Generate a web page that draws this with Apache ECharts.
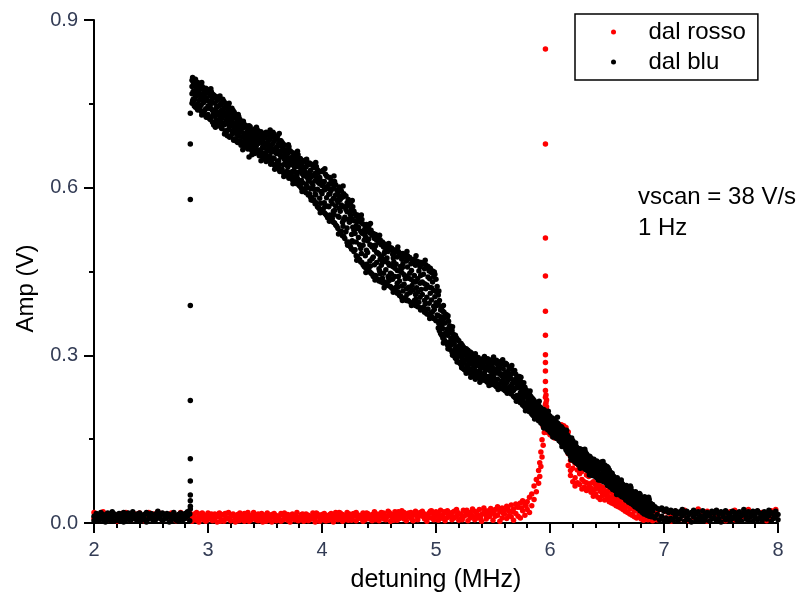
<!DOCTYPE html>
<html>
<head>
<meta charset="utf-8">
<script src="https://cdn.jsdelivr.net/npm/echarts@6/dist/echarts.min.js"></script>
<style>
html,body{margin:0;padding:0;background:#fff;}
#chart{width:804px;height:601px;}
</style>
</head>
<body>
<div id="chart"></div>
<script>
// ---- tick labels ----
const xTicks = [2, 3, 4, 5, 6, 7, 8];
const yTicks = ['0.0', '0.3', '0.6', '0.9'];
const seriesNames = ['dal rosso', 'dal blu'];
const noteLines = ['vscan = 38 V/s', '1 Hz'];

// ---- "dal blu" (black) readings: [x, y, y, ...] ----
const bluStart = [
[2.00,.012,.004],[2.02,.017,.007],[2.04,.003,.014],[2.06,.019,.009],[2.08,.006,.015],[2.10,.011,.002],
[2.12,.018,.008],[2.14,.005,.013],[2.16,.020,.010],[2.18,.003,.016],[2.20,.012,.007],[2.22,.017,.004],
[2.24,.009,.014],[2.26,.002,.019],[2.28,.013,.006],[2.30,.018,.010],[2.32,.004,.015],[2.34,.011,.020],
[2.36,.007,.013],[2.38,.016,.003],[2.40,.010,.018],[2.42,.005,.012],[2.44,.015,.008],[2.46,.019,.002],
[2.48,.007,.014],[2.50,.012,.017],[2.52,.003,.009],[2.54,.016,.006],[2.56,.021,.011],[2.58,.008,.014],
[2.60,.004,.018],[2.62,.013,.007],[2.64,.017,.010],[2.66,.002,.015],[2.68,.011,.006],[2.70,.019,.013],
[2.72,.005,.009],[2.74,.015,.003],[2.76,.010,.018],[2.78,.006,.014],[2.80,.017,.008],[2.82,.012,.020],
[2.84,.004,.016]
];
const bluSpike = [
[2.845,.733,.678,.579,.389,.219,.115,.075,.050,.040,.030,.025]
];
const bluBand = [
[2.86,.792,.768,.751,.781],[2.88,.785,.757,.773,.746],[2.90,.778,.749,.764,.787],[2.92,.771,.742,.783,.756],
[2.94,.779,.748,.762,.737],[2.96,.752,.775,.733,.766],[2.98,.769,.741,.778,.729],[3.00,.755,.731,.772,.746],
[3.02,.764,.722,.748,.775],[3.04,.738,.759,.717,.767],[3.06,.751,.728,.762,.714],[3.08,.735,.756,.712,.744],
[3.10,.747,.718,.761,.729],[3.12,.724,.752,.706,.739],[3.14,.743,.712,.735,.754],[3.16,.721,.747,.699,.731],
[3.18,.738,.704,.726,.745],[3.20,.711,.733,.693,.722],[3.22,.729,.697,.716,.738],[3.24,.705,.724,.687,.731],
[3.26,.719,.694,.712,.681],[3.28,.701,.722,.684,.709],[3.30,.714,.691,.679,.706],[3.32,.697,.713,.674,.689],
[3.34,.708,.684,.699,.672],[3.36,.690,.711,.677,.655],[3.38,.703,.681,.694,.668],[3.40,.686,.701,.669,.692],
[3.42,.697,.672,.688,.663],[3.44,.679,.702,.666,.691],[3.46,.694,.668,.684,.659],[3.48,.673,.697,.655,.687],
[3.50,.689,.662,.679,.651],[3.52,.668,.694,.649,.681],[3.54,.698,.657,.675,.686],[3.56,.664,.691,.645,.677],
[3.58,.683,.652,.696,.641],[3.60,.661,.687,.637,.672],[3.62,.679,.648,.665,.633],[3.64,.655,.674,.631,.684],
[3.66,.669,.641,.678,.627],[3.68,.646,.665,.624,.654],[3.70,.661,.637,.649,.621],[3.72,.642,.666,.618,.653],
[3.74,.655,.629,.647,.614],[3.76,.636,.657,.611,.644],[3.78,.649,.622,.638,.607],[3.80,.628,.651,.604,.639],
[3.82,.643,.613,.631,.599],[3.84,.621,.646,.597,.632],[3.86,.637,.606,.624,.591],[3.88,.612,.641,.587,.626],
[3.90,.631,.598,.618,.583],[3.92,.604,.639,.577,.621],[3.94,.626,.589,.612,.571],[3.96,.597,.632,.566,.614],
[3.98,.618,.581,.607,.562],[4.00,.589,.629,.558,.604],[4.02,.611,.573,.596,.555],[4.04,.582,.621,.550,.601],
[4.06,.606,.566,.588,.547],[4.08,.576,.613,.542,.595],[4.10,.599,.558,.581,.538],[4.12,.567,.605,.533,.587],
[4.14,.591,.549,.574,.527],[4.16,.558,.597,.521,.579],[4.18,.583,.538,.566,.514],[4.20,.547,.586,.509,.566],
[4.22,.573,.528,.557,.502],[4.24,.538,.575,.497,.556],[4.26,.562,.516,.545,.490],[4.28,.524,.558,.486,.541],
[4.30,.549,.503,.532,.478],[4.32,.511,.546,.473,.529],[4.34,.538,.491,.522,.467],[4.36,.497,.535,.462,.518],
[4.38,.529,.478,.513,.457],[4.40,.484,.526,.453,.505],[4.42,.519,.469,.498,.449],[4.44,.473,.515,.445,.494],
[4.46,.509,.462,.489,.441],[4.48,.466,.506,.437,.484],[4.50,.502,.455,.481,.433],[4.52,.461,.498,.431,.477],
[4.54,.494,.447,.472,.429],[4.56,.453,.491,.427,.468],[4.58,.486,.441,.465,.425],[4.60,.447,.489,.423,.462],
[4.62,.481,.436,.459,.419],[4.64,.441,.484,.415,.456],[4.66,.476,.429,.452,.411],[4.68,.433,.479,.407,.451],
[4.70,.472,.424,.448,.403],[4.72,.427,.476,.401,.444],[4.74,.469,.419,.441,.398],[4.76,.422,.473,.397,.438],
[4.78,.464,.414,.436,.394],[4.80,.417,.468,.392,.433],[4.82,.461,.409,.431,.389],[4.84,.413,.466,.387,.437],
[4.86,.458,.404,.429,.385],[4.88,.409,.463,.382,.431],[4.90,.455,.398,.428,.377],[4.92,.404,.459,.374,.426],
[4.94,.451,.393,.422,.372],[4.96,.399,.448,.370,.421],[4.98,.441,.388,.416,.366],[5.00,.394,.436,.362,.414],
[5.02,.408,.371,.349,.392],[5.04,.381,.352,.339,.369],[5.06,.357,.379,.331,.348],[5.08,.372,.339,.358,.325],
[5.10,.347,.368,.319,.336],[5.12,.353,.324,.341,.311],[5.14,.331,.345,.306,.322],[5.16,.334,.309,.321,.299],
[5.18,.315,.331,.294,.306],[5.20,.326,.301,.316,.288],[5.22,.307,.321,.283,.298],[5.24,.315,.286,.302,.276],
[5.26,.292,.311,.273,.301],[5.28,.309,.279,.294,.271],[5.30,.285,.306,.268,.297],[5.32,.301,.274,.289,.266],
[5.34,.279,.298,.264,.288],[5.36,.295,.268,.283,.262],[5.38,.272,.293,.260,.281],[5.40,.289,.263,.278,.258],
[5.42,.267,.291,.256,.279],[5.44,.288,.259,.276,.254],[5.46,.262,.293,.252,.274],[5.48,.284,.256,.271,.250],
[5.50,.259,.292,.249,.272],[5.52,.286,.253,.268,.246],[5.54,.257,.289,.244,.269],[5.56,.281,.249,.266,.242],
[5.58,.254,.288,.240,.263],[5.60,.283,.246,.264,.238],[5.62,.251,.284,.236,.261],[5.64,.278,.243,.259,.234],
[5.66,.246,.276,.231,.258],[5.68,.271,.237,.253,.227],[5.70,.241,.266,.223,.252],[5.72,.259,.226,.245,.219],
[5.74,.233,.254,.215,.241],[5.76,.248,.219,.236,.211],[5.78,.225,.243,.207,.232],[5.80,.236,.211,.226,.203],
[5.82,.214,.231,.199,.221],[5.84,.224,.203,.215,.195],[5.86,.205,.219,.191,.211],[5.88,.214,.194,.207,.187],
[5.90,.197,.211,.183,.203],[5.92,.206,.186,.198,.179],[5.94,.188,.203,.175,.194],[5.96,.199,.178,.190,.171],
[5.98,.181,.195,.167,.187],[6.00,.191,.171,.183,.163],[6.02,.174,.188,.159,.179],[6.04,.183,.163,.175,.155],
[6.06,.166,.180,.151,.171],[6.08,.175,.156,.167,.147],[6.10,.159,.172,.143,.164],[6.12,.166,.147,.158,.137],
[6.14,.149,.161,.131,.153],[6.16,.155,.135,.147,.125],[6.18,.139,.151,.119,.143],[6.20,.147,.126,.139,.113],
[6.22,.129,.140,.109,.133],[6.24,.134,.115,.127,.106],[6.26,.119,.133,.104,.126],[6.28,.131,.108,.124,.102],
[6.30,.113,.129,.098,.121],[6.32,.124,.101,.116,.095],[6.34,.105,.120,.092,.112],[6.36,.116,.095,.108,.089],
[6.38,.099,.111,.086,.104],[6.40,.109,.088,.101,.083],[6.42,.092,.108,.081,.099],[6.44,.107,.084,.097,.079],
[6.46,.088,.106,.077,.095],[6.48,.104,.081,.093,.075],[6.50,.083,.101,.073,.091],[6.52,.095,.076,.087,.069],
[6.54,.079,.088,.065,.082],[6.56,.083,.066,.076,.061],[6.58,.069,.079,.057,.073],[6.60,.077,.058,.070,.053],
[6.62,.061,.073,.051,.066],[6.64,.069,.054,.063,.049],[6.66,.056,.066,.046,.061],[6.68,.063,.047,.058,.042],
[6.70,.051,.062,.038,.056],[6.72,.057,.041,.052,.036],[6.74,.044,.054,.034,.049],[6.76,.051,.036,.046,.031],
[6.78,.039,.049,.027,.044],[6.80,.046,.031,.041,.023],[6.82,.033,.045,.021,.038],[6.84,.042,.026,.036,.019],
[6.86,.029,.040,.016,.034],[6.88,.036,.021,.031,.014],[6.90,.026,.033,.012,.021]
];
const bluBandB = [
[2.87,.789,.758,.772],[2.89,.763,.794,.744],[2.91,.776,.739,.788],[2.93,.745,.768,.784],[2.95,.781,.759,.734],
[2.97,.738,.771,.757],[2.99,.761,.727,.776],[3.01,.742,.769,.724],[3.03,.727,.754,.771],[3.05,.766,.733,.712],
[3.07,.742,.763,.721],[3.09,.716,.758,.731],[3.11,.735,.709,.749],[3.13,.758,.716,.731],[3.15,.702,.729,.751],
[3.17,.745,.714,.693],[3.19,.709,.736,.690],[3.21,.742,.701,.718],[3.23,.687,.713,.735],[3.25,.728,.699,.683],
[3.27,.692,.727,.708],[3.29,.716,.676,.699],[3.31,.682,.707,.719],[3.33,.711,.678,.693],[3.35,.669,.703,.685],
[3.37,.696,.709,.671],[3.39,.677,.663,.699],[3.41,.705,.683,.661],[3.43,.667,.691,.703],[3.45,.686,.657,.699],
[3.47,.661,.681,.696],[3.49,.693,.652,.671],[3.51,.676,.699,.647],[3.53,.655,.684,.666],[3.55,.692,.642,.671],
[3.57,.653,.679,.699],[3.59,.688,.639,.664],[3.61,.647,.674,.692],[3.63,.684,.659,.629],[3.65,.633,.666,.681],
[3.67,.676,.651,.625],[3.69,.629,.668,.641],[3.71,.651,.673,.617],[3.73,.664,.623,.641],[3.75,.619,.647,.662],
[3.77,.653,.627,.609],[3.79,.611,.645,.659],[3.81,.636,.602,.652],[3.83,.609,.646,.624],[3.85,.629,.593,.649],
[3.87,.643,.602,.618],[3.89,.589,.627,.644],[3.91,.609,.642,.582],[3.93,.636,.578,.597],[3.95,.573,.619,.638],
[3.97,.609,.564,.627],[3.99,.629,.572,.593],[4.01,.562,.607,.631],[4.03,.597,.553,.624],[4.05,.619,.567,.546],
[4.07,.551,.589,.618],[4.09,.607,.545,.571],[4.11,.559,.611,.537],[4.13,.596,.531,.578],[4.15,.547,.601,.563],
[4.17,.522,.569,.594],[4.19,.589,.542,.513],[4.21,.521,.561,.585],[4.23,.579,.503,.543],[4.25,.551,.494,.572],
[4.27,.503,.566,.529],[4.29,.553,.489,.518],[4.31,.527,.477,.551],[4.33,.544,.498,.471],[4.35,.466,.519,.543],
[4.37,.524,.459,.506],[4.39,.488,.534,.463],[4.41,.456,.508,.531],[4.43,.497,.447,.524],[4.45,.518,.476,.441],
[4.47,.443,.496,.516],[4.49,.483,.511,.436],[4.51,.446,.472,.507],[4.53,.503,.438,.466],[4.55,.431,.485,.499],
[4.57,.474,.497,.426],[4.59,.434,.461,.494],[4.61,.492,.445,.421],[4.63,.418,.467,.489],[4.65,.463,.487,.422],
[4.67,.413,.441,.486],[4.69,.482,.459,.406],[4.71,.415,.464,.482],[4.73,.437,.479,.403],[4.75,.458,.399,.478],
[4.77,.412,.447,.475],[4.79,.471,.393,.425],[4.81,.443,.472,.398],[4.83,.391,.421,.469],[4.85,.451,.395,.467],
[4.87,.466,.418,.384],[4.89,.386,.445,.465],[4.91,.419,.462,.379],[4.93,.440,.383,.459],[4.95,.456,.411,.375],
[4.97,.378,.431,.451],[4.99,.405,.445,.365],[5.01,.372,.423,.389],[5.03,.361,.398,.344],[5.05,.336,.386,.361],
[5.07,.366,.329,.377],[5.09,.341,.373,.323],[5.11,.361,.317,.344],[5.13,.318,.349,.331],[5.15,.338,.303,.325],
[5.17,.313,.336,.295],[5.19,.299,.328,.311],[5.21,.319,.286,.304],[5.23,.294,.318,.279],[5.25,.306,.274,.312],
[5.27,.283,.309,.298],[5.29,.301,.269,.287],[5.31,.276,.304,.292],[5.33,.293,.264,.283],[5.35,.271,.297,.285],
[5.37,.287,.261,.296],[5.39,.268,.291,.277],[5.41,.282,.256,.294],[5.43,.263,.289,.272],[5.45,.281,.252,.294],
[5.47,.256,.276,.291],[5.49,.279,.248,.264],[5.51,.253,.289,.276],[5.53,.272,.244,.291],[5.55,.248,.274,.287],
[5.57,.267,.241,.289],[5.59,.242,.276,.258],[5.61,.269,.236,.286],[5.63,.240,.271,.255],[5.65,.264,.233,.279],
[5.67,.237,.268,.249],[5.69,.256,.225,.273],[5.71,.228,.261,.245],[5.73,.251,.218,.262],[5.75,.222,.247,.236],
[5.77,.239,.210,.251],[5.79,.215,.238,.229],[5.81,.229,.201,.219],[5.83,.206,.227,.213],[5.85,.217,.193,.222],
[5.87,.195,.216,.202],[5.89,.209,.188,.198],[5.91,.185,.207,.194],[5.93,.201,.178,.191],[5.95,.183,.202,.174],
[5.97,.192,.171,.184],[5.99,.169,.193,.178],[6.01,.186,.161,.173],[6.03,.166,.186,.159],[6.05,.177,.153,.169],
[6.07,.157,.178,.163],[6.09,.169,.146,.157],[6.11,.151,.169,.141],[6.13,.159,.136,.166],[6.15,.142,.158,.128],
[6.17,.149,.124,.137],[6.19,.131,.152,.117],[6.21,.139,.111,.124],[6.23,.117,.137,.108],[6.25,.131,.104,.122],
[6.27,.111,.132,.103],[6.29,.126,.101,.117],[6.31,.108,.127,.096],[6.33,.118,.094,.109],[6.35,.098,.119,.088],
[6.37,.108,.085,.101],[6.39,.091,.110,.084],[6.41,.102,.081,.111],[6.43,.087,.104,.078],[6.45,.099,.076,.109],
[6.47,.082,.103,.074],[6.49,.096,.072,.088],[6.51,.076,.099,.071],[6.53,.091,.064,.083],[6.55,.071,.084,.060],
[6.57,.079,.058,.067],[6.59,.062,.081,.055],[6.61,.072,.050,.064],[6.63,.056,.071,.047],[6.65,.065,.045,.058],
[6.67,.049,.067,.041],[6.69,.059,.037,.052],[6.71,.043,.063,.035],[6.73,.054,.032,.046],[6.75,.039,.056,.029],
[6.77,.047,.026,.041],[6.79,.034,.051,.022],[6.81,.043,.019,.035],[6.83,.027,.047,.017],[6.85,.039,.014,.031],
[6.87,.022,.042,.012],[6.89,.033,.011,.026]
];
const bluBandC = [
[2.865,.797,.755],[2.905,.741,.769],[2.945,.788,.730],[2.985,.726,.758],[3.025,.777,.741],[3.065,.708,.736],
[3.105,.764,.724],[3.145,.696,.742],[3.185,.751,.717],[3.225,.685,.709],[3.265,.731,.700],[3.305,.668,.717],
[3.345,.710,.680],[3.385,.659,.688],[3.425,.708,.676],[3.465,.648,.700],[3.505,.660,.694],[3.545,.703,.648],
[3.585,.633,.669],[3.625,.697,.641],[3.665,.620,.658],[3.705,.677,.628],[3.745,.607,.645],[3.785,.665,.616],
[3.825,.593,.637],[3.865,.651,.600],[3.905,.578,.623],[3.945,.645,.587],[3.985,.555,.613],[4.025,.634,.566],
[4.065,.540,.598],[4.105,.621,.552],[4.145,.517,.586],[4.185,.603,.531],[4.225,.497,.567],[4.265,.577,.505],
[4.305,.470,.539],[4.345,.551,.482],[4.385,.448,.521],[4.425,.536,.460],[4.465,.435,.497],[4.505,.515,.451],
[4.545,.421,.482],[4.585,.500,.438],[4.625,.413,.474],[4.665,.494,.422],[4.705,.398,.457],[4.745,.486,.409],
[4.785,.389,.452],[4.825,.478,.401],[4.865,.381,.443],[4.905,.470,.392],[4.945,.366,.437],[4.985,.449,.382],
[5.025,.357,.415],[5.065,.322,.389],[5.105,.371,.312],[5.145,.300,.351],[5.185,.328,.288],[5.225,.278,.316],
[5.265,.312,.268],[5.305,.261,.293],[5.345,.303,.257],[5.385,.252,.281],[5.425,.298,.266],[5.465,.246,.283],
[5.505,.297,.261],[5.545,.239,.279],[5.585,.292,.252],[5.625,.232,.268],[5.665,.282,.242],[5.705,.218,.257],
[5.745,.261,.229],[5.785,.201,.228],[5.825,.236,.209],[5.865,.186,.213],[5.905,.218,.194],[5.945,.170,.197],
[5.985,.200,.176],[6.025,.154,.184],[6.065,.189,.162],[6.105,.137,.166],[6.145,.166,.141],[6.185,.113,.145],
[6.225,.143,.118],[6.265,.098,.127],[6.305,.132,.107],[6.345,.086,.114],[6.385,.114,.095],[6.425,.077,.100],
[6.465,.110,.085],[6.505,.067,.092],[6.545,.089,.068],[6.585,.051,.075],[6.625,.077,.057],[6.665,.041,.062],
[6.705,.066,.043],[6.745,.029,.052],[6.785,.053,.035],[6.825,.016,.040],[6.865,.046,.024]
];
const bluEnd = [
[6.92,.029,.009],[6.94,.015,.026],[6.96,.024,.006],[6.98,.012,.027],[7.00,.021,.004],[7.02,.009,.025],
[7.04,.019,.003],[7.06,.023,.008],[7.08,.005,.018],[7.10,.022,.011],[7.12,.004,.016],[7.14,.020,.007],
[7.16,.013,.024],[7.18,.003,.017],[7.20,.021,.009],[7.22,.006,.015],[7.24,.019,.002],[7.26,.011,.023],
[7.28,.004,.016],[7.30,.020,.008],[7.32,.013,.003],[7.34,.022,.010],[7.36,.005,.017],[7.38,.019,.012],
[7.40,.003,.014],[7.42,.021,.007],[7.44,.010,.018],[7.46,.004,.023],[7.48,.016,.008],[7.50,.020,.002],
[7.52,.011,.017],[7.54,.006,.022],[7.56,.018,.010],[7.58,.003,.014],[7.60,.021,.008],[7.62,.012,.019],
[7.64,.005,.016],[7.66,.020,.009],[7.68,.013,.003],[7.70,.018,.024],[7.72,.007,.014],[7.74,.020,.004],
[7.76,.011,.017],[7.78,.003,.021],[7.80,.015,.009],[7.82,.022,.006],[7.84,.010,.018],[7.86,.004,.014],
[7.88,.020,.011],[7.90,.007,.017],[7.92,.013,.023],[7.94,.003,.019],[7.96,.016,.008],[7.98,.021,.012],
[8.00,.006,.015]
];

// ---- "dal rosso" (red) readings: [x, y, y, ...] ----
const rossoBase = [
[2.00,.019,.008],[2.04,.015,.004],[2.08,.020,.011],[2.12,.006,.016],[2.16,.013,.018],[2.20,.003,.014],
[2.24,.017,.009],[2.28,.011,.019],[2.32,.005,.015],[2.36,.016,.010],[2.40,.008,.018],[2.44,.014,.004],
[2.48,.019,.011],[2.52,.007,.016],[2.56,.012,.020],[2.60,.017,.005],[2.64,.010,.015],[2.68,.018,.007],
[2.72,.004,.013],[2.76,.016,.019],[2.80,.009,.014],[2.84,.018,.006],
[2.86,.011,.003],[2.88,.016,.008],[2.90,.005,.019],[2.92,.013,.002],[2.94,.009,.017],[2.96,.015,.006],
[2.98,.003,.012],[3.00,.018,.010],[3.02,.007,.014],[3.04,.012,.004],[3.06,.016,.009],[3.08,.002,.013],
[3.10,.011,.018],[3.12,.006,.015],[3.14,.014,.003],[3.16,.009,.017],[3.18,.019,.007],[3.20,.004,.012],
[3.22,.013,.016],[3.24,.008,.002],[3.26,.015,.010],[3.28,.005,.018],[3.30,.012,.007],[3.32,.017,.003],
[3.34,.009,.014],[3.36,.003,.011],[3.38,.014,.006],[3.40,.010,.019],[3.42,.006,.013],[3.44,.016,.004],
[3.46,.011,.008],[3.48,.002,.015],[3.50,.013,.009],[3.52,.018,.005],[3.54,.007,.012],[3.56,.015,.002],
[3.58,.010,.017],[3.60,.004,.013],[3.62,.012,.008],[3.64,.017,.003],[3.66,.006,.014],[3.68,.011,.010],
[3.70,.015,.005],[3.72,.002,.012],[3.74,.009,.016],[3.76,.013,.006],[3.78,.019,.011],[3.80,.005,.008],
[3.82,.012,.015],[3.84,.008,.003],[3.86,.016,.011],[3.88,.004,.014],[3.90,.011,.007],[3.92,.018,.013],
[3.94,.007,.002],[3.96,.013,.016],[3.98,.003,.010],[4.00,.015,.006],[4.02,.009,.017],[4.04,.012,.004],
[4.06,.005,.014],[4.08,.017,.009],[4.10,.011,.002],[4.12,.014,.019],[4.14,.006,.011],[4.16,.018,.008],
[4.18,.003,.015],[4.20,.013,.006],[4.22,.009,.019],[4.24,.016,.012],[4.26,.005,.010],[4.28,.012,.017],
[4.30,.019,.004],[4.32,.008,.014],[4.34,.014,.009],[4.36,.003,.018],[4.38,.011,.006],[4.40,.017,.013],
[4.42,.007,.010],[4.44,.015,.004],[4.46,.020,.012],[4.48,.009,.016],[4.50,.004,.011],[4.52,.014,.019],
[4.54,.018,.007],[4.56,.006,.013],[4.58,.012,.021],[4.60,.016,.003],[4.62,.009,.015],[4.64,.020,.011],
[4.66,.005,.017],[4.68,.013,.008],[4.70,.022,.014],[4.72,.007,.019],[4.74,.015,.004],[4.76,.011,.018],
[4.78,.019,.009],[4.80,.004,.014],[4.82,.017,.021],[4.84,.010,.006],[4.86,.014,.019],[4.88,.021,.012],
[4.90,.007,.016],[4.92,.013,.003],[4.94,.018,.010],[4.96,.009,.022],[4.98,.015,.006],[5.00,.020,.012],
[5.02,.005,.017],[5.04,.023,.011],[5.06,.014,.008],[5.08,.019,.004],[5.10,.010,.022],[5.12,.016,.013],
[5.14,.006,.019],[5.16,.021,.009],[5.18,.012,.024],[5.20,.017,.005],[5.22,.008,.015],[5.24,.023,.011],
[5.26,.014,.020],[5.28,.004,.017],[5.30,.019,.009],[5.32,.012,.025],[5.34,.021,.006],[5.36,.009,.016],
[5.38,.024,.013],[5.40,.015,.003],[5.42,.019,.027],[5.44,.007,.014],[5.46,.022,.011],[5.48,.017,.026],
[5.50,.005,.019],[5.52,.024,.012],[5.54,.014,.029],[5.56,.003,.020],[5.58,.027,.009],[5.60,.016,.023],
[5.62,.008,.030],[5.64,.021,.013],[5.66,.011,.032],[5.68,.025,.005],[5.70,.017,.034],[5.72,.028,.012],
[5.74,.009,.036],[5.76,.022,.040],[5.78,.014,.033],[5.80,.038,.024],[5.82,.046,.019],[5.84,.031,.052],
[5.86,.042,.066],[5.88,.056,.078],[5.90,.071,.094],[5.91,.083,.108],[5.92,.101,.127],[5.93,.118,.149],
[5.94,.139,.172],[5.95,.162,.198]
];
const rossoBaseB = [
[2.87,.014],[2.91,.008],[2.95,.018],[2.99,.005],[3.03,.016],[3.07,.011],[3.11,.003],[3.15,.017],
[3.19,.009],[3.23,.013],[3.27,.004],[3.31,.015],[3.35,.019],[3.39,.008],[3.43,.012],[3.47,.017],
[3.51,.003],[3.55,.010],[3.59,.014],[3.63,.006],[3.67,.018],[3.71,.009],[3.75,.013],[3.79,.004],
[3.83,.016],[3.87,.011],[3.91,.007],[3.95,.018],[3.99,.012],[4.03,.004],[4.07,.015],[4.11,.009],
[4.15,.019],[4.19,.010],[4.23,.005],[4.27,.016],[4.31,.012],[4.35,.007],[4.39,.018],[4.43,.013],
[4.47,.006],[4.51,.016],[4.55,.010],[4.59,.019],[4.63,.005],[4.67,.020],[4.71,.011],[4.75,.016],
[4.79,.006],[4.83,.013],[4.87,.018],[4.91,.009],[4.95,.021],[4.99,.014],[5.03,.008],[5.07,.020],
[5.11,.016],[5.15,.011],[5.19,.019],[5.23,.006],[5.27,.023],[5.31,.014],[5.35,.019],[5.39,.008],
[5.43,.022],[5.47,.012],[5.51,.017],[5.55,.025],[5.59,.018],[5.63,.026],[5.67,.020],[5.71,.029],
[5.75,.027],[5.79,.031]
];
const rossoPeak = [
[5.96,.848,.678,.510,.442,.379,.336,.301,.287,.272,.253,.237,.225,.212,.200,.190,.180],
[5.965,.229,.215,.205,.193,.184],
[5.97,.220,.208,.196,.187,.174,.166]
];
const rossoTail = [
[5.98,.176,.162,.171],[6.00,.168,.158,.177],[6.02,.173,.155,.164],[6.04,.161,.178,.152],
[6.06,.169,.157,.175],[6.08,.154,.172,.163],[6.10,.176,.160,.149],[6.12,.167,.152,.174],
[6.14,.158,.171,.146],[6.16,.124,.163,.103],[6.18,.112,.094,.085],[6.20,.098,.119,.074],
[6.22,.081,.107,.066],[6.24,.095,.072,.113],[6.26,.069,.088,.101],[6.28,.092,.061,.078],
[6.30,.074,.097,.064],[6.32,.086,.058,.072],[6.34,.065,.083,.093],[6.36,.071,.055,.062],
[6.38,.059,.074,.048],[6.40,.068,.052,.061],[6.42,.046,.063,.071],[6.44,.057,.042,.066],
[6.46,.064,.049,.055],[6.48,.041,.058,.051],[6.50,.053,.067,.044],[6.52,.047,.038,.059],
[6.54,.055,.043,.036],[6.56,.034,.049,.041],[6.58,.045,.031,.052],[6.60,.038,.047,.029],
[6.62,.042,.027,.035],[6.64,.033,.046,.024],[6.66,.028,.039,.021],[6.68,.036,.019,.043],
[6.70,.025,.031,.016],[6.72,.038,.014,.029],[6.74,.021,.033,.011],[6.76,.027,.009,.034],
[6.78,.016,.031,.024],[6.80,.013,.037,.007],[6.82,.029,.018,.005],[6.84,.011,.024,.032],
[6.86,.006,.020,.015],[6.88,.027,.009,.018],[6.90,.014,.004,.022],
[6.94,.018,.006],[6.98,.024,.011],[7.02,.009,.020],[7.06,.015,.003],[7.10,.021,.012],
[7.14,.007,.017],[7.18,.013,.023],[7.22,.004,.016],[7.26,.019,.010],[7.30,.025,.006],
[7.34,.012,.018],[7.38,.003,.021],[7.42,.016,.009],[7.46,.022,.013],[7.50,.008,.019],
[7.54,.014,.004],[7.58,.020,.011],[7.62,.006,.023],[7.66,.017,.009],[7.70,.011,.020],
[7.74,.024,.005],[7.78,.013,.018],[7.82,.007,.021],[7.86,.019,.012],[7.90,.004,.016],
[7.94,.022,.010],[7.98,.015,.024]
];

function toPoints() {
  const out = [];
  for (const rows of arguments) {
    for (const r of rows) {
      for (let i = 1; i < r.length; i++) out.push([r[0], r[i]]);
    }
  }
  return out;
}
const rossoData = toPoints(rossoBase, rossoBaseB, rossoPeak, rossoTail);
const bluData = toPoints(bluStart, bluSpike, bluBand, bluBandB, bluBandC, bluEnd);

const FONT = '"Liberation Sans", Arial, sans-serif';
const tickColor = '#333c55';

const chart = echarts.init(document.getElementById('chart'), null, {renderer: 'canvas'});
chart.setOption({
  animation: false,
  backgroundColor: '#ffffff',
  textStyle: {fontFamily: FONT},
  grid: {left: 94, right: 26, top: 20, bottom: 78, containLabel: false},
  title: {
    text: noteLines.join('\n'),
    left: 638, top: 182, padding: 0,
    textStyle: {fontFamily: FONT, fontSize: 24, fontWeight: 'normal', color: '#000', lineHeight: 31}
  },
  legend: {
    data: seriesNames,
    orient: 'vertical',
    left: 575, top: 14,
    padding: [6, 12, 6, 36],
    itemWidth: 60, itemHeight: 5, itemGap: 6,
    icon: 'circle',
    borderColor: '#000', borderWidth: 1.5,
    textStyle: {fontFamily: FONT, fontSize: 24, color: '#000', lineHeight: 24}
  },
  xAxis: {
    type: 'value', min: xTicks[0], max: xTicks[xTicks.length - 1], interval: 1,
    name: 'detuning (MHz)', nameLocation: 'middle', nameGap: 45,
    nameTextStyle: {fontFamily: FONT, fontSize: 25, color: '#000'},
    axisLine: {onZero: false, lineStyle: {color: '#000', width: 2}},
    axisTick: {inside: false, length: 10, lineStyle: {color: '#000', width: 2}},
    minorTick: {show: true, splitNumber: 5, length: 5, lineStyle: {color: '#000', width: 2}},
    splitLine: {show: false},
    axisLabel: {fontFamily: FONT, fontSize: 20, color: tickColor, margin: 17,
      formatter: v => String(xTicks.find(t => Math.abs(t - v) < 1e-9) ?? v)}
  },
  yAxis: {
    type: 'value', min: 0, max: 0.9, interval: 0.3,
    name: 'Amp (V)', nameLocation: 'middle', nameGap: 56,
    nameTextStyle: {fontFamily: FONT, fontSize: 24, color: '#000', padding: [0, 34, 0, 0]},
    axisLine: {onZero: false, lineStyle: {color: '#000', width: 2}},
    axisTick: {inside: false, length: 10, lineStyle: {color: '#000', width: 2}},
    minorTick: {show: true, splitNumber: 2, length: 5, lineStyle: {color: '#000', width: 2}},
    splitLine: {show: false},
    axisLabel: {fontFamily: FONT, fontSize: 20, color: tickColor, margin: 16,
      formatter: v => yTicks[Math.round(v / 0.3)]}
  },
  series: [
    {name: seriesNames[0], type: 'scatter', data: rossoData, symbol: 'circle', symbolSize: 5.5,
     itemStyle: {color: '#ff0000', opacity: 1}, large: false, clip: false},
    {name: seriesNames[1], type: 'scatter', data: bluData, symbol: 'circle', symbolSize: 5.5,
     itemStyle: {color: '#000000', opacity: 1}, large: false, clip: false}
  ]
});
</script>
</body>
</html>
